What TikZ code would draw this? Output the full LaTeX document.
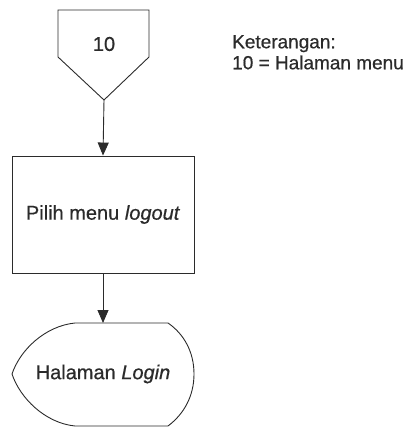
\documentclass[tikz,border=0pt]{standalone}
\usepackage{fontspec}
\setmainfont[FakeBold=0.6]{Liberation Sans}
\usetikzlibrary{arrows.meta}
\definecolor{ink}{HTML}{2B2B2B}
\begin{document}
\begin{tikzpicture}[x=1pt,y=-1pt,
  line/.style={draw=ink,line width=0.9pt},
  flow/.style={line,-{Triangle[width=11pt,length=13pt]}},
  label/.style={text=ink,font=\fontsize{20}{19}\selectfont,inner sep=0pt},
  procbox/.style={line,minimum width=182pt,minimum height=117pt,inner sep=0pt,
    text=ink,font=\fontsize{20}{19}\selectfont}]
\useasboundingbox (0,0) rectangle (412,427);

% off-page connector
\draw[line] (58,10) -- (149,10) -- (149,57) -- (104,100) -- (58,57) -- cycle;
\coordinate (conntip) at (104,100);
\node[label] (conn) at (104,44) {10};

% note
\node[label,font=\fontsize{19}{21}\selectfont,anchor=north west,align=left] (note) at (232,35)
  {Keterangan:\\10 = Halaman menu};

% process
\node[procbox] (proc) at (103,214.5) {Pilih menu \textit{logout}};

% display / terminal
\draw[line] (75,323) -- (168,323)
  .. controls (184,334) and (194,352) .. (194,374)
  .. controls (194,396) and (184,414) .. (168,426)
  -- (75,426)
  .. controls (45,423) and (20,398) .. (12,374)
  .. controls (20,350) and (45,326) .. (75,323);
\coordinate (termtop) at (103,323);
\node[label] (term) at (103,374) {Halaman \textit{Login}};

\draw[flow] (conntip) -- (proc.north);
\draw[flow] (proc.south) -- (termtop);
\end{tikzpicture}
\end{document}
